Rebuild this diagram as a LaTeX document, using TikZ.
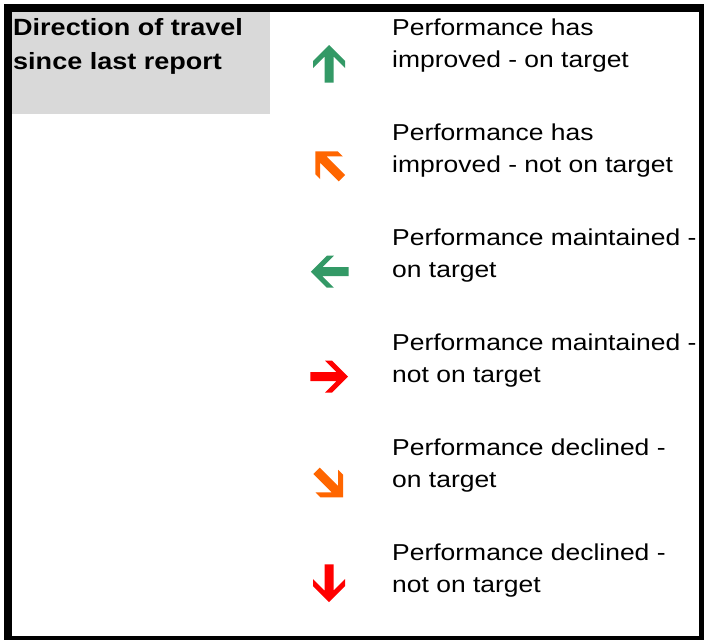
\documentclass[tikz,border=0pt]{standalone}
\usepackage{fontspec}
\newfontfamily\lab[FakeStretch=1.15]{Liberation Sans}
\definecolor{tgreen}{HTML}{339966}
\definecolor{torange}{HTML}{FF6600}
\definecolor{tred}{HTML}{FF0000}
\definecolor{hdrgray}{HTML}{D9D9D9}
\begin{document}
\begin{tikzpicture}[x=1pt,y=-1pt,
  txt/.style={anchor=base west,inner sep=0pt,font=\lab\fontsize{23}{27}\selectfont},
  hdr/.style={txt,font=\lab\bfseries\fontsize{23.5}{27}\selectfont},
  dirarrow/.pic={\fill[pic actions] (0,-19) -- (16,-3) -- (16,4) -- (4.5,-7.5) -- (4.5,18.7) -- (-4.5,18.7) -- (-4.5,-7.5) -- (-16,4) -- (-16,-3) -- cycle;}]
\useasboundingbox (0,0) rectangle (704,640);
\fill[white] (0,0) rectangle (704,640);
% frame
\fill[black] (4,4) rectangle (704,12);
\fill[black] (4,4) rectangle (12,640);
\fill[black] (699,4) rectangle (704,640);
\fill[black] (4,636) rectangle (704,640);
% header
\fill[hdrgray] (12,12) rectangle (270,114);
\node[hdr] (h1) at (13,35) {Direction of travel};
\node[hdr] (h2) at (13,69) {since last report};
% arrows
\pic[fill=tgreen] at (329,64) {dirarrow};
\pic[fill=torange,rotate=45] at (328.7,164.9) {dirarrow};
\pic[fill=tgreen,rotate=90] at (329.8,271.7) {dirarrow};
\pic[fill=tred,rotate=-90] at (329,376.7) {dirarrow};
\pic[fill=torange,rotate=-135] at (329.7,484) {dirarrow};
\pic[fill=tred,rotate=180] at (329,583) {dirarrow};
% labels
\node[txt] (a1) at (392,35) {Performance has};
\node[txt] (a2) at (392,67) {improved - on target};
\node[txt] (b1) at (392,140) {Performance has};
\node[txt] (b2) at (392,172) {improved - not on target};
\node[txt] (c1) at (392,245) {Performance maintained -};
\node[txt] (c2) at (392,277) {on target};
\node[txt] (d1) at (392,350) {Performance maintained -};
\node[txt] (d2) at (392,382) {not on target};
\node[txt] (e1) at (392,455) {Performance declined -};
\node[txt] (e2) at (392,487) {on target};
\node[txt] (f1) at (392,560) {Performance declined -};
\node[txt] (f2) at (392,592) {not on target};
\end{tikzpicture}
\end{document}
